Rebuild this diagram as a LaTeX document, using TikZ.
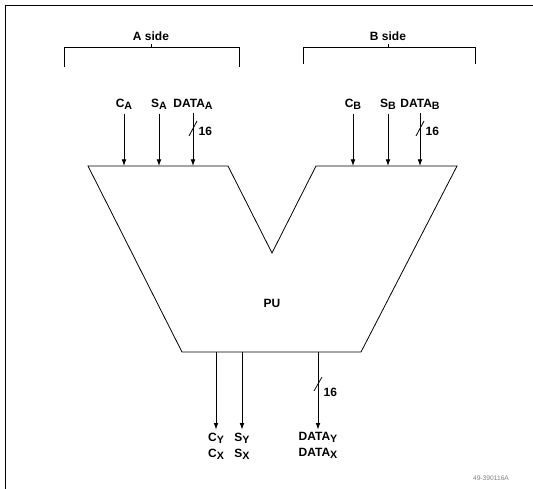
\documentclass[tikz,border=0pt]{standalone}
\usepackage{fontspec}
\setmainfont{Liberation Sans}
\usetikzlibrary{arrows.meta}
\newcommand{\sgsub}[1]{\raisebox{-0.3ex}{\footnotesize #1}}
\tikzset{
    sig/.style={font=\bfseries\small, inner sep=1pt},
    flow/.style={-{Latex[length=5pt,width=3.5pt]}},
    busmark/.style={line width=0.6pt},
}
\begin{document}
\begin{tikzpicture}[x=0.75pt, y=-0.75pt, line width=0.6pt]
    \useasboundingbox (0,0) rectangle (533,489);
    % Frame
    \draw (533,5) -- (5,5) -- (5,489);

    % Side brackets
    \draw (64,67) -- (64,47) -- (239,47) -- (239,67);
    \draw (151,47) -- (151,44);
    \node[sig] (aside) at (151,36) {A side};
    \draw (303,64) -- (303,47) -- (475,47) -- (475,64);
    \draw (388,47) -- (388,44);
    \node[sig] (bside) at (388,36) {B side};

    % Processing unit
    \draw (88,166) -- (228,166) -- (272,253) -- (316,166) -- (457,166)
          -- (361,352) -- (182,352) -- cycle;
    \node[sig] (pu) at (272,303) {PU};

    % Inputs
    \foreach \name/\x/\lbl in {ca/124/{C\sgsub{A}}, sa/159/{S\sgsub{A}}, da/193/{DATA\sgsub{A}},
                               cb/353/{C\sgsub{B}}, sb/388/{S\sgsub{B}}, db/420/{DATA\sgsub{B}}} {
        \node[sig] (\name) at (\x,104) {\lbl};
        \coordinate (\name in) at (\name |- 0,166);
        \draw[flow] ([yshift=-2pt]\name.south) -- (\name in);
    }
    \draw[busmark] (189,136) -- (197,121);
    \node[sig, anchor=west] (wa) at (197,131) {16};
    \draw[busmark] (416,136) -- (424,121);
    \node[sig, anchor=west] (wb) at (424,131) {16};

    % Outputs
    \foreach \name/\x/\lbl in {cy/216/{C\sgsub{Y}\\[1pt]C\sgsub{X}}, sy/242/{S\sgsub{Y}\\[1pt]S\sgsub{X}},
                               dy/318/{DATA\sgsub{Y}\\[1pt]DATA\sgsub{X}}} {
        \coordinate (\name out) at (\x,352);
        \node[sig, align=center, anchor=north] (\name) at (\x,431) {\lbl};
        \draw[flow] (\name out) -- ([yshift=1pt]\name.north);
    }
    \draw[busmark] (314,391) -- (322,377);
    \node[sig, anchor=west] (wy) at (322,392) {16};

    % Drawing number
    \node[font=\tiny, text=gray] (ref) at (491,478) {49-390116A};
\end{tikzpicture}
\end{document}
